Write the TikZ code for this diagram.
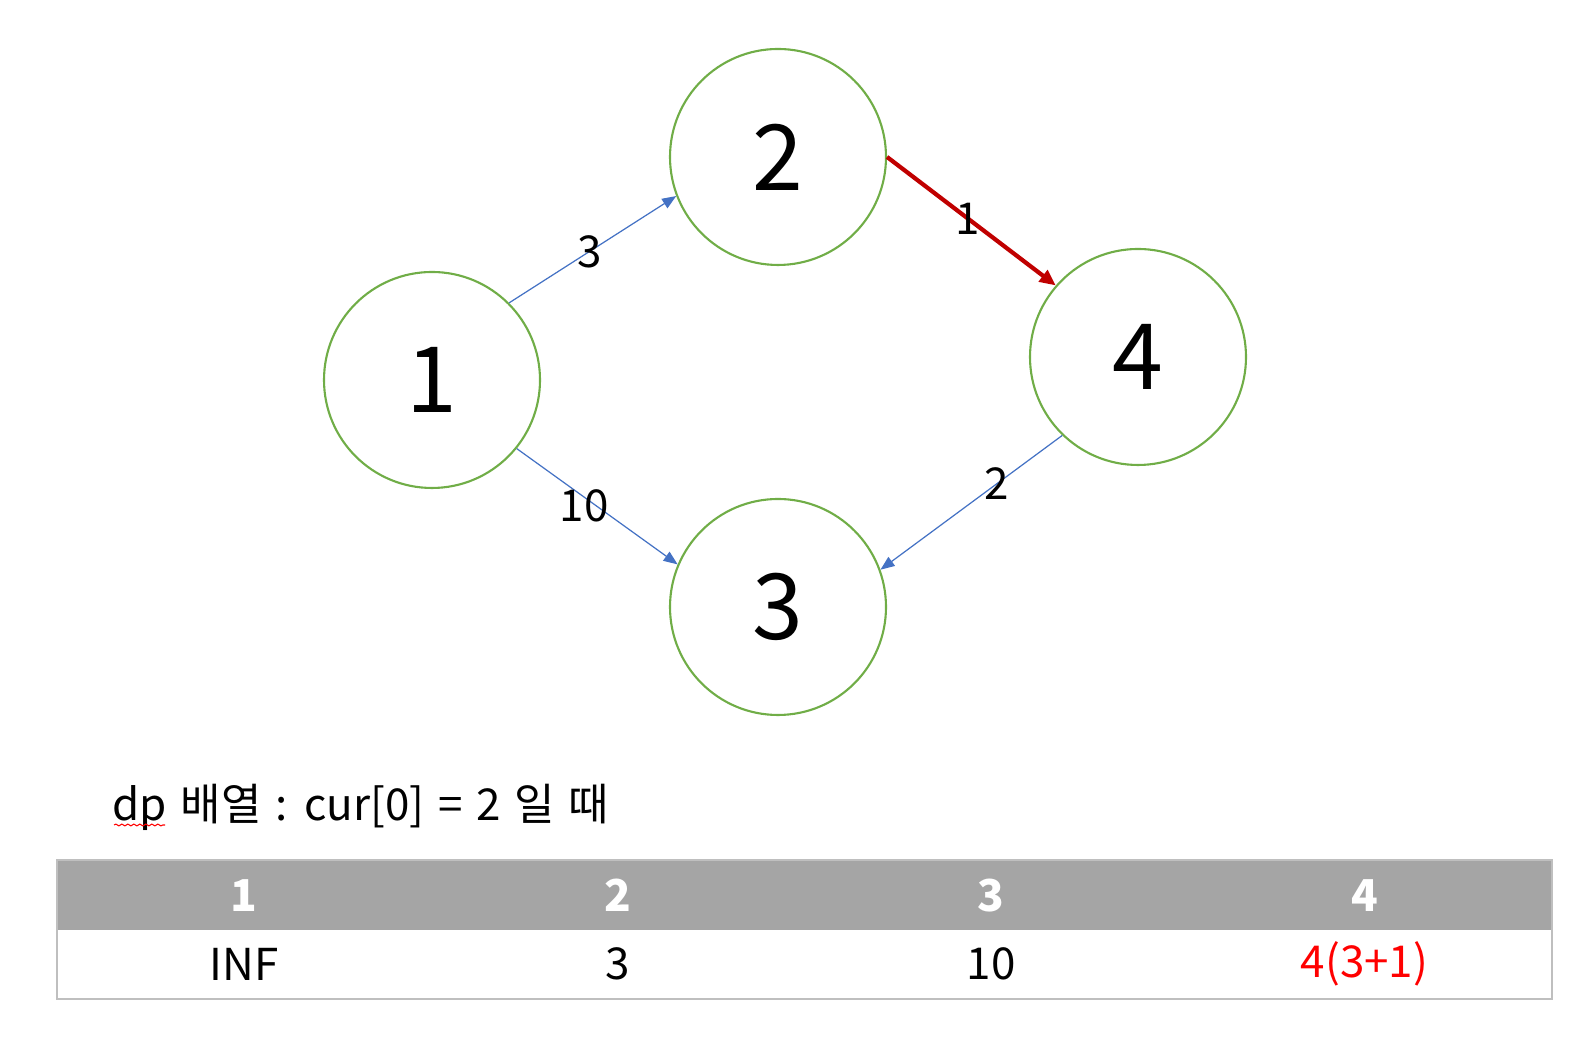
\documentclass[tikz,border=0pt]{standalone}
\usepackage{fontspec}
\setmainfont{Noto Sans CJK KR}
\usetikzlibrary{arrows.meta,positioning,decorations.pathmorphing}
\definecolor{vgreen}{HTML}{70AD47}
\definecolor{eblue}{HTML}{4472C4}
\definecolor{ered}{HTML}{C00000}
\definecolor{tred}{HTML}{FF0000}
\definecolor{hgray}{HTML}{A5A5A5}
\definecolor{lgray}{HTML}{BFBFBF}

\begin{document}
\begin{tikzpicture}[every node/.style={font=\fontsize{12.5}{15}\selectfont}]
\tikzstyle{vtx}=[circle, draw=vgreen, line width=0.6pt, minimum size=2.16cm, inner sep=0pt, font=\fontsize{26}{32}\selectfont]
\tikzstyle{edg}=[draw=eblue, line width=0.35pt, -{Triangle[length=1.4mm,width=1.1mm]}]
\tikzstyle{hot}=[draw=ered, line width=1.2pt, -{Triangle[length=1.6mm,width=1.4mm]}]
\tikzstyle{wt}=[inner sep=0pt]
\tikzstyle{hcell}=[fill=hgray, text=white, minimum width=3.734cm, minimum height=0.69cm, inner sep=0pt, font=\fontsize{12.5}{15}\selectfont\bfseries]
\tikzstyle{vcell}=[minimum width=3.734cm, minimum height=0.68cm, inner sep=0pt]
\useasboundingbox (0,0) rectangle (15.96,10.4);
% graph
\node[vtx] (n1) at (4.32,6.60) {1};
\node[vtx] (n2) at (7.78,8.83) {2};
\node[vtx] (n3) at (7.78,4.33) {3};
\node[vtx] (n4) at (11.38,6.83) {4};
\draw[edg] (n1.45) -- node[wt, pos=0.48] {3} (n2.201);
\draw[edg] (n1.321) -- node[wt, pos=0.42, yshift=-0.09cm] {10} (n3.157);
\draw[hot] (n2.0) -- node[wt, pos=0.48] {1} (n4.139);
\draw[edg] (n4.226) -- node[wt, pos=0.36] {2} (n3.20);
% caption
\node[anchor=west, inner sep=0pt] (cap) at (1.12,2.33) {\spaceskip=0.31em dp 배열 : cur[0] = 2 일 때};
\draw[tred, line width=0.3pt, decorate, decoration={snake, amplitude=0.25pt, segment length=0.6mm}] (1.14,2.15) -- (1.65,2.15);
% table
\node[hcell] (h1) at (2.442,1.445) {1};
\node[hcell] (h2) at (6.176,1.445) {2};
\node[hcell] (h3) at (9.910,1.445) {3};
\node[hcell] (h4) at (13.644,1.445) {4};
\node[vcell] (v1) at (2.442,0.76) {INF};
\node[vcell] (v2) at (6.176,0.76) {3};
\node[vcell] (v3) at (9.910,0.76) {10};
\node[vcell, text=tred] (v4) at (13.644,0.76) {4(3+1)};
\draw[lgray, line width=0.6pt] (h1.north west) rectangle (v4.south east);
\end{tikzpicture}
\end{document}
